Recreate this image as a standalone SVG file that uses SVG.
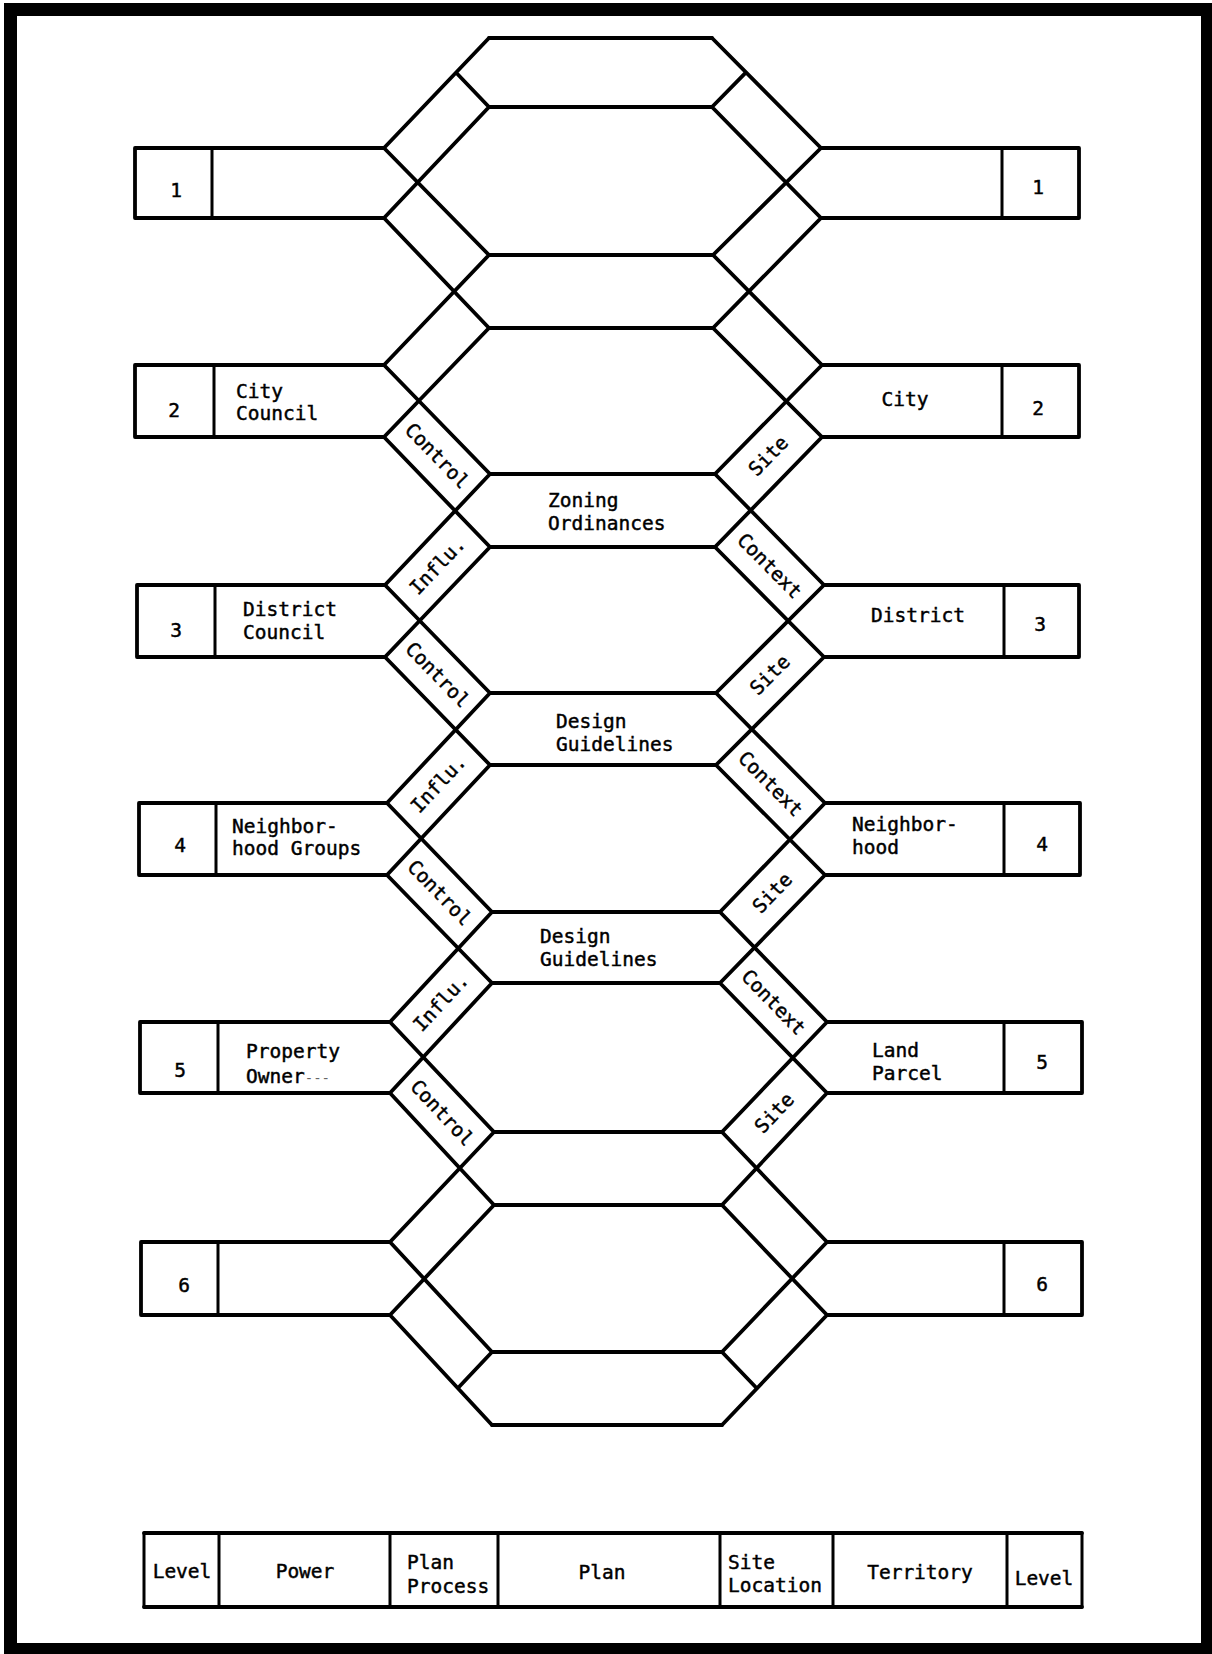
<svg xmlns="http://www.w3.org/2000/svg" width="1212" height="1654" viewBox="0 0 1212 1654">
<style>
.ln{fill:none;stroke:#000;stroke-width:3.8;stroke-linecap:round;stroke-linejoin:round}
.vt{fill:none;stroke:#000;stroke-width:3;stroke-linecap:round}
.frame{fill:none;stroke:#000;stroke-width:13}
text{font-family:"DejaVu Sans Mono","Liberation Mono",monospace;font-size:19.5px;fill:#000;stroke:#000;stroke-width:0.45}
.m{text-anchor:middle}
.d{text-anchor:middle;dominant-baseline:central}
</style>
<rect width="1212" height="1654" fill="#fff"/>
<rect class="frame" x="10.5" y="9.5" width="1197" height="1640"/>

<g id="connectors">
<path class="ln" d="M384 148 L489 38 M384 218 L489 107 M384 148 L489 255 M384 218 L489 328
M384 365 L489 255 M384 437 L489 328 M384 365 L490 474 M384 437 L490 547
M385 585 L490 474 M385 657 L490 547 M385 585 L490 693 M385 657 L490 765
M387 803 L490 693 M387 875 L490 765 M387 803 L492 912 M387 875 L492 983
M390 1022 L492 912 M390 1093 L492 983 M390 1022 L494 1132 M390 1093 L494 1205
M390 1242 L494 1132 M390 1315 L494 1205 M390 1242 L492 1352 M390 1315 L492 1425
M489 107 L456 72.5 M492 1352 L458 1388"/>
<path class="ln" d="M821 148 L712 38 M821 218 L712 107 M821 148 L713 255 M821 218 L713 328
M822 365 L713 255 M822 437 L713 328 M822 365 L715 474 M822 437 L715 547
M824 585 L715 474 M824 657 L715 547 M824 585 L716 693 M824 657 L716 765
M825 803 L716 693 M825 875 L716 765 M825 803 L720 912 M825 875 L720 983
M827 1022 L720 912 M827 1093 L720 983 M827 1022 L722 1132 M827 1093 L722 1205
M827 1242 L722 1132 M827 1315 L722 1205 M827 1242 L722 1352 M827 1315 L722 1425
M712 107 L746 72.3 M722 1352 L757 1388.5"/>
<g id="connector-labels">
<text class="d" transform="translate(437 456) rotate(45.9)">Control</text>
<text class="d" transform="translate(437.5 675) rotate(45.8)">Control</text>
<text class="d" transform="translate(439.5 893) rotate(45.9)">Control</text>
<text class="d" transform="translate(442 1113) rotate(46.9)">Control</text>
<text class="d" transform="translate(437.5 566) rotate(-46.5)">Influ.</text>
<text class="d" transform="translate(438.5 784) rotate(-46.9)">Influ.</text>
<text class="d" transform="translate(441 1002.5) rotate(-47.2)">Influ.</text>
<text class="d" transform="translate(768.5 456) rotate(-45.7)">Site</text>
<text class="d" transform="translate(770 675) rotate(-45)">Site</text>
<text class="d" transform="translate(772.5 893) rotate(-45.9)">Site</text>
<text class="d" transform="translate(774.5 1113) rotate(-46.6)">Site</text>
<text class="d" transform="translate(769.5 566) rotate(45.4)">Context</text>
<text class="d" transform="translate(770.5 784) rotate(45.3)">Context</text>
<text class="d" transform="translate(773.5 1002.5) rotate(45.8)">Context</text>
</g>
</g>

<g id="band-0"><path class="ln" d="M489 38 H712 M489 107 H712"/></g>
<g id="band-1"><path class="ln" d="M489 255 H713 M489 328 H713"/></g>
<g id="band-2"><path class="ln" d="M490 474 H715 M490 547 H715"/>
<text x="548" y="507">Zoning</text><text x="548" y="530">Ordinances</text></g>
<g id="band-3"><path class="ln" d="M490 693 H716 M490 765 H716"/>
<text x="556" y="728">Design</text><text x="556" y="751">Guidelines</text></g>
<g id="band-4"><path class="ln" d="M492 912 H720 M492 983 H720"/>
<text x="540" y="943">Design</text><text x="540" y="966">Guidelines</text></g>
<g id="band-5"><path class="ln" d="M494 1132 H722 M494 1205 H722"/></g>
<g id="band-6"><path class="ln" d="M492 1352 H722 M492 1425 H722"/></g>

<g id="left-1"><path class="ln" d="M384 148 H135 V218 H384"/><path class="vt" d="M212 148 V218"/>
<text class="m" x="176" y="197">1</text></g>
<g id="left-2"><path class="ln" d="M384 365 H135 V437 H384"/><path class="vt" d="M214 365 V437"/>
<text class="m" x="174" y="417">2</text><text x="236" y="398">City</text><text x="236" y="420">Council</text></g>
<g id="left-3"><path class="ln" d="M385 585 H137 V657 H385"/><path class="vt" d="M215 585 V657"/>
<text class="m" x="176" y="637">3</text><text x="243" y="616">District</text><text x="243" y="639">Council</text></g>
<g id="left-4"><path class="ln" d="M387 803 H139 V875 H387"/><path class="vt" d="M216 803 V875"/>
<text class="m" x="180" y="852">4</text><text x="232" y="833">Neighbor-</text><text x="232" y="855">hood Groups</text></g>
<g id="left-5"><path class="ln" d="M390 1022 H140 V1093 H390"/><path class="vt" d="M218 1022 V1093"/>
<text class="m" x="180" y="1077">5</text><text x="246" y="1058">Property</text><text x="246" y="1083">Owner<tspan fill="#666" stroke="none" font-size="14">---</tspan></text></g>
<g id="left-6"><path class="ln" d="M390 1242 H141 V1315 H390"/><path class="vt" d="M218 1242 V1315"/>
<text class="m" x="184" y="1292">6</text></g>

<g id="right-1"><path class="ln" d="M821 148 H1079 V218 H821"/><path class="vt" d="M1002 148 V218"/>
<text class="m" x="1038" y="194">1</text></g>
<g id="right-2"><path class="ln" d="M822 365 H1079 V437 H822"/><path class="vt" d="M1002 365 V437"/>
<text class="m" x="1038" y="415">2</text><text class="m" x="905" y="406">City</text></g>
<g id="right-3"><path class="ln" d="M824 585 H1079 V657 H824"/><path class="vt" d="M1004 585 V657"/>
<text class="m" x="1040" y="631">3</text><text x="871" y="622">District</text></g>
<g id="right-4"><path class="ln" d="M825 803 H1080 V875 H825"/><path class="vt" d="M1004 803 V875"/>
<text class="m" x="1042" y="851">4</text><text x="852" y="831">Neighbor-</text><text x="852" y="854">hood</text></g>
<g id="right-5"><path class="ln" d="M827 1022 H1082 V1093 H827"/><path class="vt" d="M1004 1022 V1093"/>
<text class="m" x="1042" y="1069">5</text><text x="872" y="1057">Land</text><text x="872" y="1080">Parcel</text></g>
<g id="right-6"><path class="ln" d="M827 1242 H1082 V1315 H827"/><path class="vt" d="M1004 1242 V1315"/>
<text class="m" x="1042" y="1291">6</text></g>

<g id="legend">
<path class="ln" d="M144 1533 H1082 M144 1607 H1082"/>
<path class="vt" d="M144 1533 V1607 M219 1533 V1607 M390 1533 V1607 M498 1533 V1607 M720 1533 V1607 M833 1533 V1607 M1007 1533 V1607 M1082 1533 V1607"/>
<text class="m" x="182" y="1578">Level</text>
<text class="m" x="305" y="1578">Power</text>
<text x="407" y="1569">Plan</text><text x="407" y="1593">Process</text>
<text class="m" x="602" y="1579">Plan</text>
<text x="728" y="1569">Site</text><text x="728" y="1592">Location</text>
<text class="m" x="920" y="1579">Territory</text>
<text class="m" x="1044" y="1585">Level</text>
</g>
</svg>
